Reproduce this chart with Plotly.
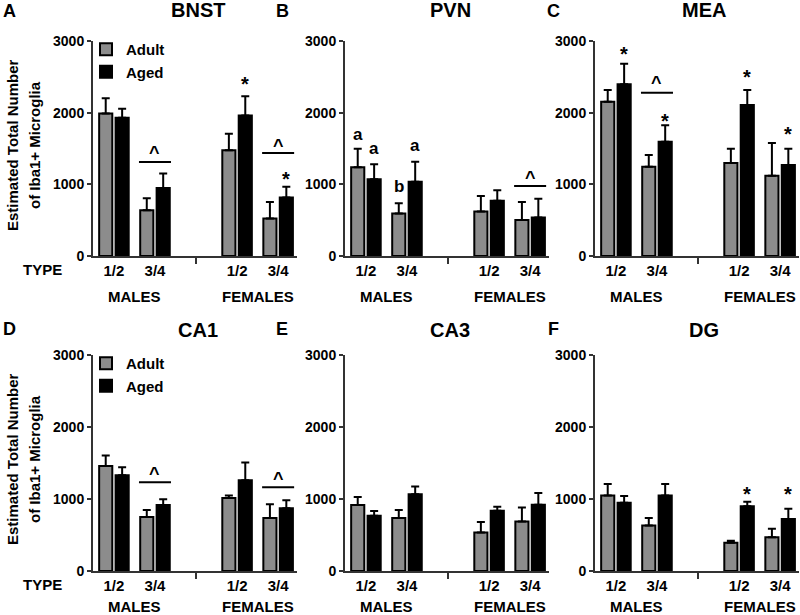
import plotly.graph_objects as go

# ---------------- data ----------------
POSITIONS = [1, 2, 4, 5]
TYPE_LABELS = ["1/2", "3/4", "1/2", "3/4"]
SEX_LABELS = ["MALES", "FEMALES"]
SEX_POS = [1.5, 4.5]
BREAK_POS = [3]
Y_TICKS = [0, 1000, 2000, 3000]
SERIES = ["Adult", "Aged"]

REGIONS = ["BNST", "PVN", "MEA", "CA1", "CA3", "DG"]
PANEL_LETTERS = ["A", "B", "C", "D", "E", "F"]

BNST_ADULT = [1990, 640, 1475, 522]
BNST_ADULT_SEM = [210, 165, 232, 233]
BNST_AGED = [1930, 950, 1960, 818]
BNST_AGED_SEM = [126, 200, 270, 150]

PVN_ADULT = [1240, 592, 622, 502]
PVN_ADULT_SEM = [255, 143, 215, 250]
PVN_AGED = [1072, 1037, 772, 537]
PVN_AGED_SEM = [207, 279, 144, 263]

MEA_ADULT = [2153, 1247, 1298, 1121]
MEA_ADULT_SEM = [163, 162, 200, 456]
MEA_AGED = [2395, 1595, 2107, 1270]
MEA_AGED_SEM = [289, 228, 209, 228]

CA1_ADULT = [1460, 749, 1014, 735]
CA1_ADULT_SEM = [145, 98, 33, 191]
CA1_AGED = [1330, 916, 1260, 870]
CA1_AGED_SEM = [112, 79, 247, 111]

CA3_ADULT = [916, 735, 535, 686]
CA3_ADULT_SEM = [112, 112, 144, 195]
CA3_AGED = [767, 1065, 837, 921]
CA3_AGED_SEM = [66, 107, 56, 163]

DG_ADULT = [1047, 633, 391, 470]
DG_ADULT_SEM = [162, 102, 28, 116]
DG_AGED = [949, 1047, 898, 721]
DG_AGED_SEM = [93, 162, 65, 144]

DATA = {
    "BNST": (BNST_ADULT, BNST_ADULT_SEM, BNST_AGED, BNST_AGED_SEM),
    "PVN": (PVN_ADULT, PVN_ADULT_SEM, PVN_AGED, PVN_AGED_SEM),
    "MEA": (MEA_ADULT, MEA_ADULT_SEM, MEA_AGED, MEA_AGED_SEM),
    "CA1": (CA1_ADULT, CA1_ADULT_SEM, CA1_AGED, CA1_AGED_SEM),
    "CA3": (CA3_ADULT, CA3_ADULT_SEM, CA3_AGED, CA3_AGED_SEM),
    "DG": (DG_ADULT, DG_ADULT_SEM, DG_AGED, DG_AGED_SEM),
}

# significance labels: (category index, series, text, y value)
SIG_MARKS = {
    "BNST": [(2, "Aged", "*", 2456), (3, "Aged", "*", 1130)],
    "PVN": [(0, "Adult", "a", 1688), (0, "Aged", "a", 1493),
            (1, "Adult", "b", 967), (1, "Aged", "a", 1521)],
    "MEA": [(0, "Aged", "*", 2874), (1, "Aged", "*", 1944),
            (2, "Aged", "*", 2549), (3, "Aged", "*", 1758)],
    "DG": [(2, "Aged", "*", 1130), (3, "Aged", "*", 1130)],
}
# brackets with "^": (category index, line y, caret y)
BRACKETS = {
    "BNST": [(1, 1312, 1479), (3, 1437, 1577)],
    "PVN": [(3, 977, 1130)],
    "MEA": [(1, 2279, 2456)],
    "CA1": [(1, 1232, 1386), (3, 1162, 1326)],
}

Y_TITLE = "Estimated Total Number<br>of Iba1+ Microglia"

# ---------------- style / layout ----------------
FONT = "Liberation Sans, Arial, sans-serif"
W, H = 800, 615
ADULT_COLOR = "#8c8c8c"
AGED_COLOR = "#000000"
AXIS_COLOR = "#333333"
X_PX = [(93, 297), (345, 549), (595, 799)]
Y_PX = [(256, 41), (571, 355)]  # (bottom, top)
X_RANGE = [0.49, 5.46]
BAR_OFFSET = {"Adult": -0.2, "Aged": 0.2}
GLYPH_SHIFT = {"*": -4, "^": -3, "a": 1, "b": 0}
GLYPH_SIZE = {"*": 20, "^": 18, "a": 17, "b": 17}

fig = go.Figure()
annotations = []
shapes = []

for i, region in enumerate(REGIONS):
    row, col = divmod(i, 3)
    n = "" if i == 0 else str(i + 1)
    xa, ya = "x" + n, "y" + n
    adult, adult_sem, aged, aged_sem = DATA[region]
    leg = None
    if i == 0:
        leg = "legend"
    elif i == 3:
        leg = "legend2"
    for name, vals, sem, color in [("Adult", adult, adult_sem, ADULT_COLOR),
                                   ("Aged", aged, aged_sem, AGED_COLOR)]:
        tr = dict(
            x=POSITIONS, y=vals, name=name, xaxis=xa, yaxis=ya,
            marker=dict(color=color, line=dict(color="black", width=2)),
            error_y=dict(type="data", symmetric=False, array=sem,
                         arrayminus=[0] * len(sem), color="black",
                         thickness=2, width=4),
            showlegend=leg is not None, hoverinfo="skip",
        )
        if leg is not None:
            tr["legend"] = leg
        fig.add_trace(go.Bar(**tr))

    x0, x1 = X_PX[col]
    yb, yt = Y_PX[row]
    xdom = [x0 / W, x1 / W]
    ydom = [1 - yb / H, 1 - yt / H]
    xkey = "xaxis" + n
    ykey = "yaxis" + n
    fig.update_layout(**{
        xkey: dict(domain=xdom, anchor=ya, range=X_RANGE, showline=True,
                   linecolor=AXIS_COLOR, linewidth=2, tickvals=POSITIONS,
                   ticktext=TYPE_LABELS, ticks="", showgrid=False,
                   zeroline=False, fixedrange=True, automargin=False,
                   tickfont=dict(family=FONT, size=15, color="black", weight="bold"),
                   minor=dict(tickvals=BREAK_POS, ticks="outside", ticklen=6,
                              tickwidth=1.5, tickcolor=AXIS_COLOR, showgrid=False)),
        ykey: dict(domain=ydom, anchor=xa, range=[0, 3000], tickvals=Y_TICKS,
                   ticks="outside", ticklen=4, tickwidth=2, tickcolor=AXIS_COLOR,
                   showline=True, linecolor=AXIS_COLOR, linewidth=2,
                   showgrid=False, zeroline=False, fixedrange=True, automargin=False,
                   tickfont=dict(family=FONT, size=14, color="black", weight="bold")),
    })

    # panel letter and title
    annotations.append(dict(text=PANEL_LETTERS[i], xref="paper", yref="paper",
                            x=[9, 282, 553][col] / W, y=1 - [11, 329][row] / H,
                            showarrow=False, xanchor="center", yanchor="middle",
                            font=dict(family=FONT, size=18, weight="bold")))
    annotations.append(dict(text=region, xref="paper", yref="paper",
                            x=[198, 450, 704][col] / W, y=1 - [10, 330][row] / H,
                            showarrow=False, xanchor="center", yanchor="middle",
                            font=dict(family=FONT, size=20, weight="bold")))
    # sex labels
    for lab, pos in zip(SEX_LABELS, SEX_POS):
        annotations.append(dict(text=lab, xref=xa, yref="paper", x=pos,
                                y=1 - [296, 606][row] / H, showarrow=False,
                                xanchor="center", yanchor="middle",
                                font=dict(family=FONT, size=15, weight="bold")))
    # significance marks
    for ci, ser, txt, yv in SIG_MARKS.get(region, []):
        annotations.append(dict(text=txt, xref=xa, yref=ya,
                                x=POSITIONS[ci] + BAR_OFFSET[ser], y=yv,
                                yshift=GLYPH_SHIFT[txt], showarrow=False,
                                xanchor="center", yanchor="middle",
                                font=dict(family=FONT, size=GLYPH_SIZE[txt], weight="bold")))
    for ci, ly, cy in BRACKETS.get(region, []):
        p = POSITIONS[ci]
        shapes.append(dict(type="line", xref=xa, yref=ya, x0=p - 0.39, x1=p + 0.39,
                           y0=ly, y1=ly, line=dict(color="black", width=2)))
        annotations.append(dict(text="^", xref=xa, yref=ya, x=p, y=cy,
                                yshift=GLYPH_SHIFT["^"], showarrow=False,
                                xanchor="center", yanchor="middle",
                                font=dict(family=FONT, size=GLYPH_SIZE["^"], weight="bold")))

    if col == 0:
        for line_txt, xc in zip(Y_TITLE.split("<br>"), [12, 34]):
            annotations.append(dict(text=line_txt, xref="paper", yref="paper",
                                    x=xc / W, y=1 - [145, 459][row] / H, textangle=-90,
                                    showarrow=False, xanchor="center", yanchor="middle",
                                    font=dict(family=FONT, size=15, weight="bold")))
        annotations.append(dict(text="TYPE", xref="paper", yref="paper",
                                x=42 / W, y=1 - [270, 584][row] / H,
                                showarrow=False, xanchor="center", yanchor="middle",
                                font=dict(family=FONT, size=15, weight="bold")))

legend_style = dict(xanchor="left", yanchor="top", bgcolor="rgba(0,0,0,0)",
                    font=dict(family=FONT, size=15, color="black", weight="bold"),
                    tracegroupgap=0, itemwidth=30)
fig.update_layout(
    template="none",
    width=W, height=H, autosize=False, margin=dict(l=0, r=0, t=0, b=0, pad=0),
    plot_bgcolor="white", paper_bgcolor="white",
    barmode="group", bargap=0.2, bargroupgap=0.2,
    font=dict(family=FONT, color="black"),
    legend=dict(x=86 / W, y=1 - 33 / H, **legend_style),
    legend2=dict(x=86 / W, y=1 - 347 / H, **legend_style),
    annotations=annotations, shapes=shapes,
)

fig.write_html("out.html",
               config={"displayModeBar": False, "responsive": False},
               post_script="document.body.style.margin='0px';document.body.style.overflow='hidden';")
